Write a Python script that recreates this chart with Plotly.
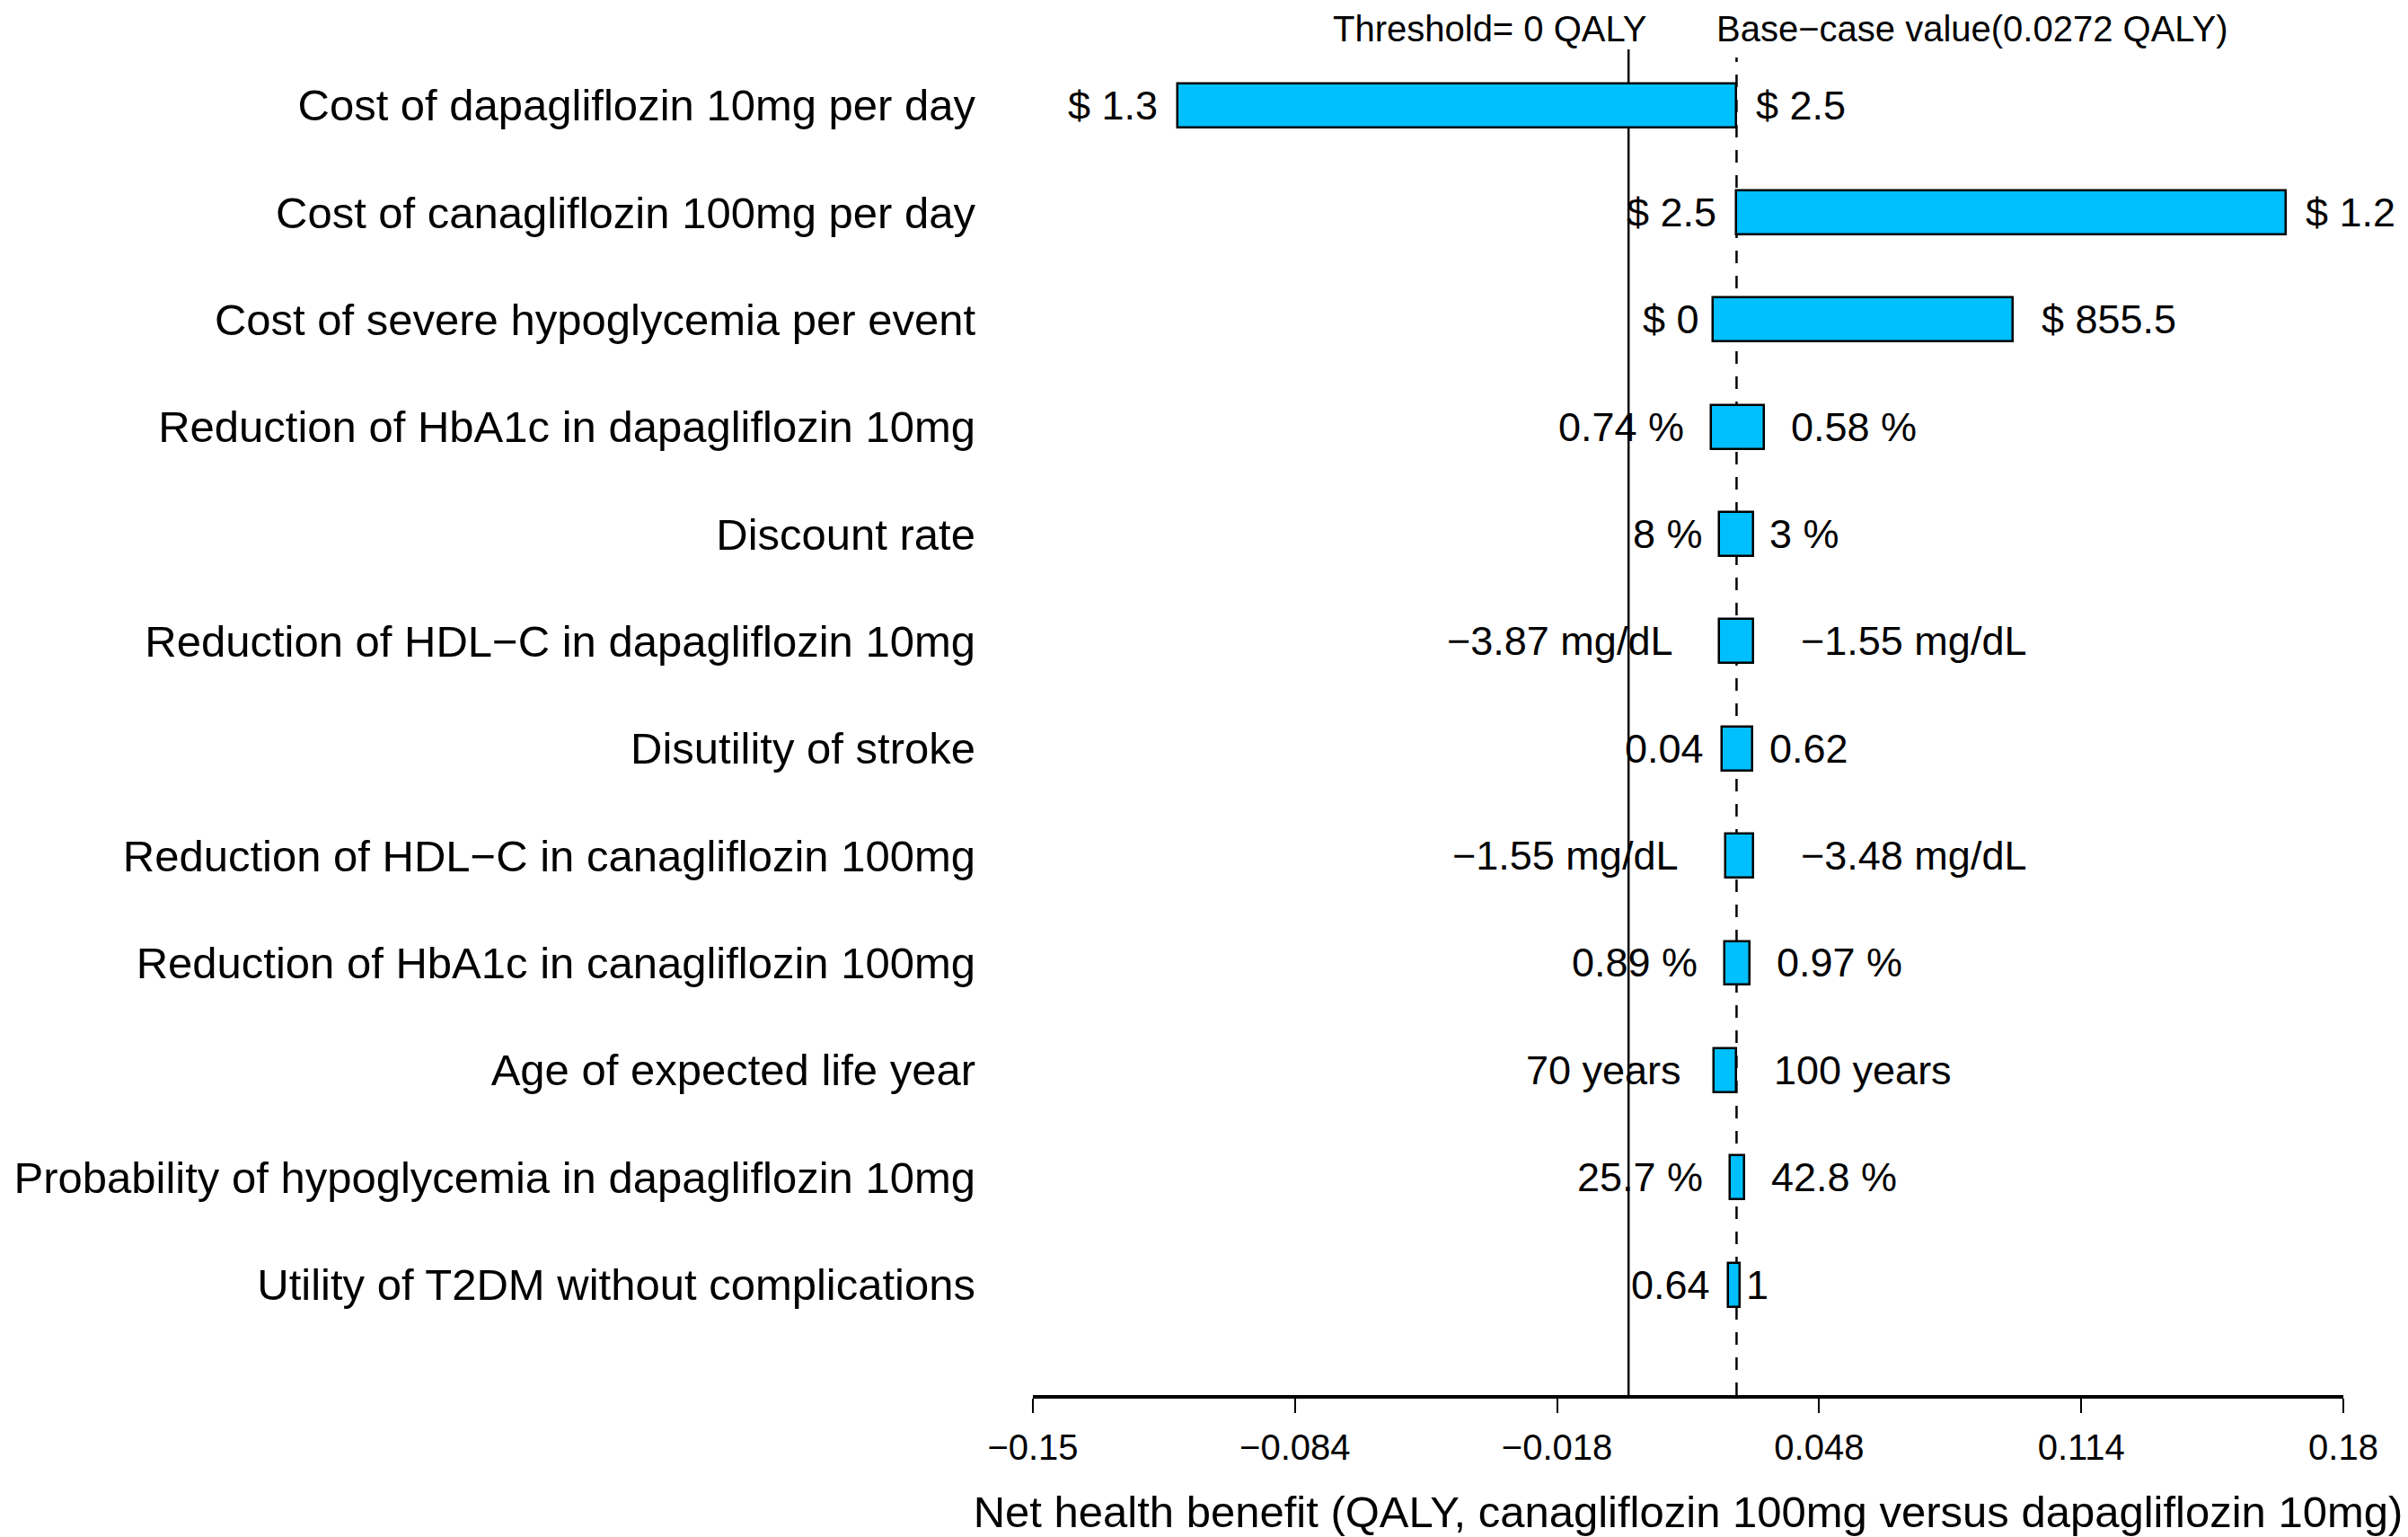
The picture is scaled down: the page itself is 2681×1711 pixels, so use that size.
import plotly.graph_objects as go

parameters = [
    "Cost of dapagliflozin 10mg per day",
    "Cost of canagliflozin 100mg per day",
    "Cost of severe hypoglycemia per event",
    "Reduction of HbA1c in dapagliflozin 10mg",
    "Discount rate",
    "Reduction of HDL\u2212C in dapagliflozin 10mg",
    "Disutility of stroke",
    "Reduction of HDL\u2212C in canagliflozin 100mg",
    "Reduction of HbA1c in canagliflozin 100mg",
    "Age of expected life year",
    "Probability of hypoglycemia in dapagliflozin 10mg",
    "Utility of T2DM without complications",
]
nhb_left = [-0.1135, 0.0272, 0.0212, 0.0208, 0.0227, 0.0229, 0.0234, 0.0243, 0.0241, 0.0215, 0.0255, 0.0250]
nhb_right = [0.0272, 0.1655, 0.0968, 0.0340, 0.0315, 0.0315, 0.0311, 0.0315, 0.0304, 0.0272, 0.0292, 0.0281]
label_left = ["$ 1.3", "$ 2.5", "$ 0", "0.74 %", "8 %", "\u22123.87 mg/dL", "0.04",
              "\u22121.55 mg/dL", "0.89 %", "70 years", "25.7 %", "0.64"]
label_right = ["$ 2.5", "$ 1.2", "$ 855.5", "0.58 %", "3 %", "\u22121.55 mg/dL", "0.62",
               "\u22123.48 mg/dL", "0.97 %", "100 years", "42.8 %", "1"]
threshold = 0.0
base_case = 0.0272
x_ticks = [-0.15, -0.084, -0.018, 0.048, 0.114, 0.18]
x_ticktext = ["\u22120.15", "\u22120.084", "\u22120.018", "0.048", "0.114", "0.18"]
x_title = "Net health benefit (QALY, canagliflozin 100mg versus dapagliflozin 10mg)"

FONT = "Liberation Sans, Arial, Helvetica, sans-serif"
CAT_SIZE = 49
TITLE_SIZE = 49
BAR_LABEL_SIZE = 45
TOP_SIZE = 40
TICK_SIZE = 40
TOP_MARGIN = 47

ARIAL_W = {' ': .278, '.': .278, '$': .556, '%': .889, '\u2212': .584, 'm': .833, 'g': .556,
           '/': .278, 'd': .556, 'L': .556, 'y': .5, 'e': .556, 'a': .556, 'r': .333, 's': .5}


def text_width(s, size):
    return sum(ARIAL_W.get(c, .556) for c in s) * size


rows = list(range(1, len(parameters) + 1))

fig = go.Figure()
fig.add_trace(go.Bar(
    y=rows,
    x=[r - l for l, r in zip(nhb_left, nhb_right)],
    base=nhb_left,
    orientation="h",
    width=0.41,
    marker=dict(color="#00BFFF", line=dict(color="black", width=2.5)),
    showlegend=False,
    hoverinfo="skip",
))

annotations = []
for i, row in enumerate(rows):
    wl = text_width(label_left[i], BAR_LABEL_SIZE)
    wr = text_width(label_right[i], BAR_LABEL_SIZE)
    annotations.append(dict(x=nhb_left[i], y=row, xref="x", yref="y", text=label_left[i],
                            xanchor="right", yanchor="middle", xshift=-0.2 * wl, showarrow=False,
                            font=dict(size=BAR_LABEL_SIZE, color="black", family=FONT)))
    annotations.append(dict(x=nhb_right[i], y=row, xref="x", yref="y", text=label_right[i],
                            xanchor="left", yanchor="middle", xshift=0.2 * wr, showarrow=False,
                            font=dict(size=BAR_LABEL_SIZE, color="black", family=FONT)))

annotations.append(dict(x=threshold, y=1, xref="x", yref="paper", text="Threshold= 0 QALY",
                        xanchor="right", yanchor="top", xshift=22, yshift=TOP_MARGIN, showarrow=False,
                        font=dict(size=TOP_SIZE, color="black", family=FONT)))
annotations.append(dict(x=base_case, y=1, xref="x", yref="paper",
                        text="Base\u2212case value(0.0272 QALY)",
                        xanchor="left", yanchor="top", xshift=-24, yshift=TOP_MARGIN, showarrow=False,
                        font=dict(size=TOP_SIZE, color="black", family=FONT)))

shapes = [
    dict(type="line", xref="x", yref="paper", x0=threshold, x1=threshold, y0=0, y1=1,
         layer="below", line=dict(color="black", width=2.5)),
    dict(type="line", xref="x", yref="paper", x0=base_case, x1=base_case, y0=0, y1=0.994,
         layer="below", line=dict(color="black", width=2.5, dash="14px,14px")),
]

fig.update_layout(
    width=2681, height=1711,
    margin=dict(l=1142, r=80, t=TOP_MARGIN, b=166, autoexpand=False),
    paper_bgcolor="white", plot_bgcolor="white",
    font=dict(family=FONT, color="black"),
    annotations=annotations,
    shapes=shapes,
    bargap=0,
    xaxis=dict(
        range=[-0.15, 0.18], tickvals=x_ticks, ticktext=x_ticktext,
        showline=True, linewidth=3.5, linecolor="black",
        ticks="outside", ticklen=16, tickwidth=2, tickcolor="black",
        tickfont=dict(size=TICK_SIZE, family=FONT, color="black"),
        ticklabelstandoff=4,
        showgrid=False, zeroline=False,
        title=dict(text=x_title, font=dict(size=TITLE_SIZE, family=FONT, color="black"), standoff=35),
    ),
    yaxis=dict(
        range=[13.03, 0.48], tickvals=rows, ticktext=parameters,
        ticks="", showline=False, showgrid=False, zeroline=False,
        tickfont=dict(size=CAT_SIZE, family=FONT, color="black"),
        ticklabelstandoff=63,
    ),
)

fig.write_html("out.html")
